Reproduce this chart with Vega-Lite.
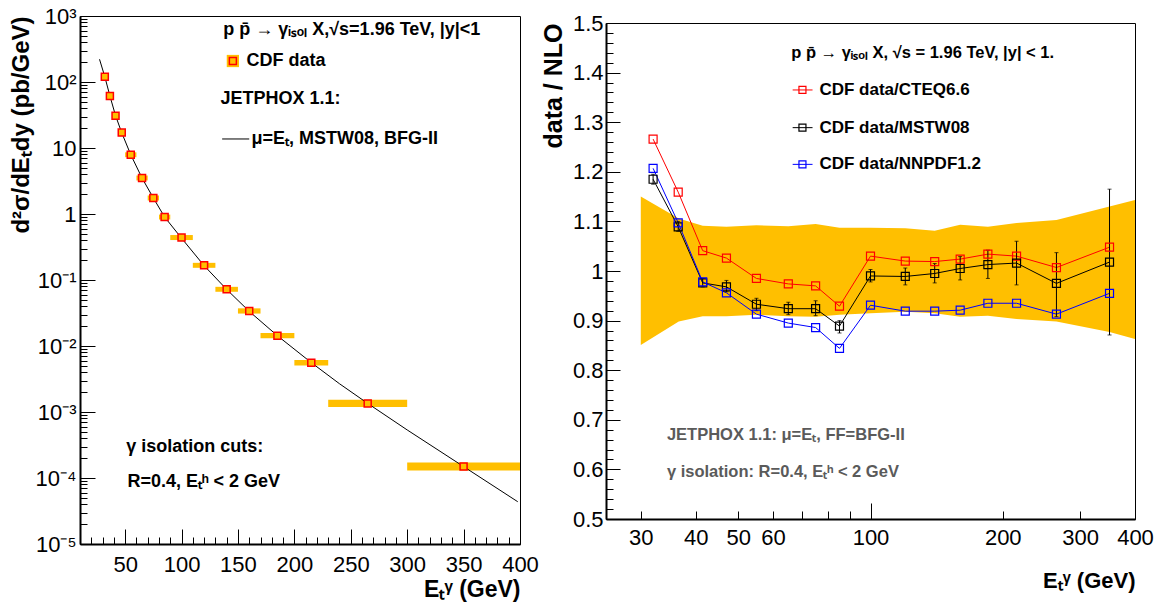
{
  "$schema": "https://vega.github.io/schema/vega-lite/v6.json",
  "padding": {"left": 8, "right": 0, "top": 4, "bottom": 0},
  "spacing": 1,
  "config": {
    "view": {"stroke": "black", "strokeWidth": 1},
    "axis": {"grid": false, "domainColor": "black", "tickColor": "black", "labelColor": "black", "titleColor": "black", "labelFont": "Liberation Sans", "titleFont": "Liberation Sans", "titleFontWeight": "bold", "labelFontSize": 22, "titleFontSize": 24}
  },
  "datasets": {
    "spec": [
      {"et": 32, "elo": 30, "ehi": 34, "xs": 120, "xslo": 110, "xshi": 131},
      {"et": 36.5, "elo": 34, "ehi": 39, "xs": 61.4, "xslo": 56.3, "xshi": 66.9},
      {"et": 41.5, "elo": 39, "ehi": 44, "xs": 30.9, "xslo": 28.3, "xshi": 33.7},
      {"et": 47, "elo": 44, "ehi": 50, "xs": 17.1, "xslo": 15.7, "xshi": 18.6},
      {"et": 55, "elo": 50, "ehi": 60, "xs": 7.9, "xslo": 7.25, "xshi": 8.6},
      {"et": 65, "elo": 60, "ehi": 70, "xs": 3.51, "xslo": 3.22, "xshi": 3.83},
      {"et": 75, "elo": 70, "ehi": 80, "xs": 1.75, "xslo": 1.6, "xshi": 1.91},
      {"et": 85, "elo": 80, "ehi": 90, "xs": 0.9, "xslo": 0.825, "xshi": 0.98},
      {"et": 100, "elo": 90, "ehi": 110, "xs": 0.44, "xslo": 0.403, "xshi": 0.48},
      {"et": 120, "elo": 110, "ehi": 130, "xs": 0.167, "xslo": 0.153, "xshi": 0.182},
      {"et": 140, "elo": 130, "ehi": 150, "xs": 0.0723, "xslo": 0.0663, "xshi": 0.0788},
      {"et": 160, "elo": 150, "ehi": 170, "xs": 0.0339, "xslo": 0.031, "xshi": 0.0372},
      {"et": 185, "elo": 170, "ehi": 200, "xs": 0.01435, "xslo": 0.0131, "xshi": 0.0158},
      {"et": 215, "elo": 200, "ehi": 230, "xs": 0.00559, "xslo": 0.00508, "xshi": 0.00615},
      {"et": 265, "elo": 230, "ehi": 300, "xs": 0.00135, "xslo": 0.00119, "xshi": 0.00153},
      {"et": 350, "elo": 300, "ehi": 400, "xs": 0.000149, "xslo": 0.00013, "xshi": 0.000171}
    ],
    "theory": [
      {"et": 27.3, "xs": 221}, {"et": 32, "xs": 120}, {"et": 36.5, "xs": 61.5}, {"et": 41.5, "xs": 31},
      {"et": 47, "xs": 17}, {"et": 55, "xs": 7.9}, {"et": 65, "xs": 3.5}, {"et": 75, "xs": 1.75},
      {"et": 85, "xs": 0.9}, {"et": 100, "xs": 0.43}, {"et": 120, "xs": 0.165}, {"et": 140, "xs": 0.072},
      {"et": 160, "xs": 0.0335}, {"et": 185, "xs": 0.0143}, {"et": 215, "xs": 0.0056}, {"et": 240, "xs": 0.00268},
      {"et": 265, "xs": 0.00135}, {"et": 300, "xs": 0.000535}, {"et": 350, "xs": 0.000149}, {"et": 398, "xs": 0.0000437}
    ],
    "ratio": [
      {"et": 32, "pdf": "CTEQ6.6", "r": 1.266}, {"et": 36.5, "pdf": "CTEQ6.6", "r": 1.159}, {"et": 41.5, "pdf": "CTEQ6.6", "r": 1.041}, {"et": 47, "pdf": "CTEQ6.6", "r": 1.026},
      {"et": 55, "pdf": "CTEQ6.6", "r": 0.985}, {"et": 65, "pdf": "CTEQ6.6", "r": 0.974}, {"et": 75, "pdf": "CTEQ6.6", "r": 0.97}, {"et": 85, "pdf": "CTEQ6.6", "r": 0.929},
      {"et": 100, "pdf": "CTEQ6.6", "r": 1.03}, {"et": 120, "pdf": "CTEQ6.6", "r": 1.02}, {"et": 140, "pdf": "CTEQ6.6", "r": 1.019}, {"et": 160, "pdf": "CTEQ6.6", "r": 1.024},
      {"et": 185, "pdf": "CTEQ6.6", "r": 1.034}, {"et": 215, "pdf": "CTEQ6.6", "r": 1.03}, {"et": 265, "pdf": "CTEQ6.6", "r": 1.007}, {"et": 350, "pdf": "CTEQ6.6", "r": 1.048},
      {"et": 32, "pdf": "MSTW08", "r": 1.185}, {"et": 36.5, "pdf": "MSTW08", "r": 1.089}, {"et": 41.5, "pdf": "MSTW08", "r": 0.976}, {"et": 47, "pdf": "MSTW08", "r": 0.968},
      {"et": 55, "pdf": "MSTW08", "r": 0.933}, {"et": 65, "pdf": "MSTW08", "r": 0.924}, {"et": 75, "pdf": "MSTW08", "r": 0.924}, {"et": 85, "pdf": "MSTW08", "r": 0.889},
      {"et": 100, "pdf": "MSTW08", "r": 0.99}, {"et": 120, "pdf": "MSTW08", "r": 0.989}, {"et": 140, "pdf": "MSTW08", "r": 0.995}, {"et": 160, "pdf": "MSTW08", "r": 1.005},
      {"et": 185, "pdf": "MSTW08", "r": 1.013}, {"et": 215, "pdf": "MSTW08", "r": 1.016}, {"et": 265, "pdf": "MSTW08", "r": 0.975}, {"et": 350, "pdf": "MSTW08", "r": 1.018},
      {"et": 32, "pdf": "NNPDF1.2", "r": 1.207}, {"et": 36.5, "pdf": "NNPDF1.2", "r": 1.097}, {"et": 41.5, "pdf": "NNPDF1.2", "r": 0.978}, {"et": 47, "pdf": "NNPDF1.2", "r": 0.956},
      {"et": 55, "pdf": "NNPDF1.2", "r": 0.913}, {"et": 65, "pdf": "NNPDF1.2", "r": 0.895}, {"et": 75, "pdf": "NNPDF1.2", "r": 0.886}, {"et": 85, "pdf": "NNPDF1.2", "r": 0.844},
      {"et": 100, "pdf": "NNPDF1.2", "r": 0.931}, {"et": 120, "pdf": "NNPDF1.2", "r": 0.919}, {"et": 140, "pdf": "NNPDF1.2", "r": 0.919}, {"et": 160, "pdf": "NNPDF1.2", "r": 0.921},
      {"et": 185, "pdf": "NNPDF1.2", "r": 0.935}, {"et": 215, "pdf": "NNPDF1.2", "r": 0.935}, {"et": 265, "pdf": "NNPDF1.2", "r": 0.913}, {"et": 350, "pdf": "NNPDF1.2", "r": 0.955}
    ],
    "err": [
      {"et": 32, "lo": 1.175, "hi": 1.195}, {"et": 36.5, "lo": 1.08, "hi": 1.1}, {"et": 41.5, "lo": 0.968, "hi": 0.985}, {"et": 47, "lo": 0.958, "hi": 0.981},
      {"et": 55, "lo": 0.92, "hi": 0.945}, {"et": 65, "lo": 0.912, "hi": 0.937}, {"et": 75, "lo": 0.91, "hi": 0.94}, {"et": 85, "lo": 0.875, "hi": 0.9},
      {"et": 100, "lo": 0.978, "hi": 1.003}, {"et": 120, "lo": 0.972, "hi": 1.006}, {"et": 140, "lo": 0.976, "hi": 1.015}, {"et": 160, "lo": 0.982, "hi": 1.029},
      {"et": 185, "lo": 0.985, "hi": 1.042}, {"et": 215, "lo": 0.972, "hi": 1.06}, {"et": 265, "lo": 0.908, "hi": 1.037}, {"et": 350, "lo": 0.871, "hi": 1.165}
    ],
    "band": [
      {"et": 30, "lo": 0.851, "hi": 1.15}, {"et": 36.6, "lo": 0.898, "hi": 1.106}, {"et": 41.5, "lo": 0.909, "hi": 1.091}, {"et": 47, "lo": 0.909, "hi": 1.089},
      {"et": 55, "lo": 0.912, "hi": 1.092}, {"et": 65, "lo": 0.909, "hi": 1.09}, {"et": 75, "lo": 0.908, "hi": 1.095}, {"et": 85, "lo": 0.912, "hi": 1.087},
      {"et": 100, "lo": 0.915, "hi": 1.087}, {"et": 120, "lo": 0.918, "hi": 1.086}, {"et": 140, "lo": 0.915, "hi": 1.081}, {"et": 160, "lo": 0.908, "hi": 1.093},
      {"et": 185, "lo": 0.91, "hi": 1.089}, {"et": 215, "lo": 0.903, "hi": 1.097}, {"et": 265, "lo": 0.898, "hi": 1.103}, {"et": 350, "lo": 0.877, "hi": 1.13},
      {"et": 400, "lo": 0.863, "hi": 1.143}
    ],
    "ltext": [
      {"x": 137, "y": 617, "t": "p p̄ → γᵢₛₒₗ X,√s=1.96 TeV, |y|<1"},
      {"x": 157.5, "y": 208, "t": "CDF data"},
      {"x": 134.5, "y": 55, "t": "JETPHOX 1.1:"},
      {"x": 162, "y": 13.7, "t": "μ=Eₜ, MSTW08, BFG-II"},
      {"x": 51, "y": 0.000295, "t": "γ isolation cuts:"},
      {"x": 52, "y": 0.000087, "t": "R=0.4, Eₜʰ < 2 GeV"}
    ],
    "lleg": [{"x": 145.5, "y": 208, "x1": 136, "x2": 160, "yl": 13.7}],
    "rleg": [
      {"pdf": "CTEQ6.6", "x1": 66.5, "x2": 73.8, "xm": 70, "xt": 76.5, "y": 1.365, "t": "CDF data/CTEQ6.6"},
      {"pdf": "MSTW08", "x1": 66.5, "x2": 73.8, "xm": 70, "xt": 76.5, "y": 1.289, "t": "CDF data/MSTW08"},
      {"pdf": "NNPDF1.2", "x1": 66.5, "x2": 73.8, "xm": 70, "xt": 76.5, "y": 1.215, "t": "CDF data/NNPDF1.2"}
    ],
    "rtitle": [{"x": 66, "y": 1.44, "t": "p p̄ → γᵢₛₒₗ X, √s = 1.96 TeV, |y| < 1."}],
    "rgray": [
      {"x": 34.4, "y": 0.669, "t": "JETPHOX 1.1: μ=Eₜ, FF=BFG-II"},
      {"x": 34.4, "y": 0.595, "t": "γ isolation: R=0.4, Eₜʰ < 2 GeV"}
    ]
  },
  "hconcat": [
    {
      "width": 440,
      "height": 528,
      "resolve": {"axis": {"x": "independent", "y": "independent"}},
      "layer": [
        {
          "data": {"name": "spec"},
          "mark": {"type": "rect", "color": "#ffbf00"},
          "encoding": {
            "x": {"field": "elo", "type": "quantitative", "scale": {"domain": [10, 400], "nice": false, "zero": false},
              "axis": {"orient": "bottom", "values": [50, 100, 150, 200, 250, 300, 350, 400], "format": "d", "tickSize": -15, "labelPadding": 25, "domainWidth": 2, "labelFlush": false, "title": "Eₜᵞ (GeV)", "titleAnchor": "end", "titleFontSize": 23, "titlePadding": 3}},
            "x2": {"field": "ehi"},
            "y": {"field": "xslo", "type": "quantitative", "scale": {"type": "log", "domain": [0.00001, 1000], "nice": false},
              "axis": {"orient": "left", "values": [0.00001, 0.0001, 0.001, 0.01, 0.1, 1, 10, 100, 1000], "tickSize": -15, "labelPadding": 19, "domainWidth": 2, "labelFlush": false,
                "labelExpr": "datum.value > 500 ? '10³' : datum.value > 50 ? '10²' : datum.value > 5 ? '10' : datum.value > 0.5 ? '1' : datum.value > 0.05 ? '10⁻¹' : datum.value > 0.005 ? '10⁻²' : datum.value > 0.0005 ? '10⁻³' : datum.value > 0.00005 ? '10⁻⁴' : '10⁻⁵'",
                "title": "d²σ/dEₜdy (pb/GeV)", "titleAnchor": "end", "titleFontSize": 24, "titlePadding": 2}},
            "y2": {"field": "xshi"}
          }
        },
        {
          "data": {"name": "theory"},
          "mark": {"type": "line", "color": "black", "strokeWidth": 1},
          "encoding": {
            "x": {"field": "et", "type": "quantitative",
              "axis": {"orient": "bottom", "values": [10,20,30,40,60,70,80,90,110,120,130,140,160,170,180,190,210,220,230,240,260,270,280,290,310,320,330,340,360,370,380,390], "labels": false, "domain": false, "tickSize": -7, "title": null}},
            "y": {"field": "xs", "type": "quantitative",
              "axis": {"orient": "left", "labels": false, "domain": false, "tickSize": -7, "title": null,
                "values": [0.00002,0.00003,0.00004,0.00005,0.00006,0.00007,0.00008,0.00009,0.0002,0.0003,0.0004,0.0005,0.0006,0.0007,0.0008,0.0009,0.002,0.003,0.004,0.005,0.006,0.007,0.008,0.009,0.02,0.03,0.04,0.05,0.06,0.07,0.08,0.09,0.2,0.3,0.4,0.5,0.6,0.7,0.8,0.9,2,3,4,5,6,7,8,9,20,30,40,50,60,70,80,90,200,300,400,500,600,700,800,900]}}
          }
        },
        {
          "data": {"name": "spec"},
          "mark": {"type": "point", "shape": "square", "filled": false, "fill": "#ffbf00", "fillOpacity": 1, "stroke": "#ff0000", "strokeWidth": 1.5, "size": 49},
          "encoding": {
            "x": {"field": "et", "type": "quantitative", "axis": null},
            "y": {"field": "xs", "type": "quantitative", "axis": null}
          }
        },
        {
          "data": {"name": "lleg"},
          "mark": {"type": "point", "shape": "square", "filled": true, "color": "#ffbf00", "opacity": 1, "size": 150},
          "encoding": {
            "x": {"field": "x", "type": "quantitative", "axis": null},
            "y": {"field": "y", "type": "quantitative", "axis": null}
          }
        },
        {
          "data": {"name": "lleg"},
          "mark": {"type": "point", "shape": "square", "filled": false, "fill": "#ffbf00", "fillOpacity": 1, "stroke": "#ff0000", "strokeWidth": 1.5, "size": 49},
          "encoding": {
            "x": {"field": "x", "type": "quantitative", "axis": null},
            "y": {"field": "y", "type": "quantitative", "axis": null}
          }
        },
        {
          "data": {"name": "lleg"},
          "mark": {"type": "rule", "color": "black", "strokeWidth": 1},
          "encoding": {
            "x": {"field": "x1", "type": "quantitative", "axis": null},
            "x2": {"field": "x2"},
            "y": {"field": "yl", "type": "quantitative", "axis": null}
          }
        },
        {
          "data": {"name": "ltext"},
          "mark": {"type": "text", "align": "left", "baseline": "middle", "font": "Liberation Sans", "fontWeight": "bold", "fontSize": 18, "color": "black"},
          "encoding": {
            "x": {"field": "x", "type": "quantitative", "axis": null},
            "y": {"field": "y", "type": "quantitative", "axis": null},
            "text": {"field": "t"}
          }
        }
      ]
    },
    {
      "spacing": 6,
      "bounds": "flush",
      "vconcat": [
        {
          "width": 529,
          "height": 1,
          "view": {"stroke": null},
          "data": {"values": [{}]},
          "mark": {"type": "rule", "opacity": 0},
          "encoding": {}
        },
        {
          "width": 529,
          "height": 496,
          "resolve": {"axis": {"x": "independent", "y": "independent"}},
          "layer": [
            {
              "data": {"name": "band"},
              "mark": {"type": "area", "color": "#ffbf00", "opacity": 1},
              "encoding": {
                "x": {"field": "et", "type": "quantitative", "scale": {"type": "log", "domain": [25, 400], "nice": false},
                  "axis": {"orient": "bottom", "values": [30, 40, 50, 60, 100, 200, 300, 400], "format": "d", "tickSize": -8, "labelPadding": 16, "domainWidth": 2, "labelFlush": false,
                    "title": "Eₜᵞ (GeV)", "titleAnchor": "end", "titleFontSize": 22, "titlePadding": 22}},
                "y": {"field": "lo", "type": "quantitative", "scale": {"domain": [0.5, 1.5], "nice": false, "zero": false},
                  "axis": {"orient": "left", "values": [0.5, 0.6, 0.7, 0.8, 0.9, 1, 1.1, 1.2, 1.3, 1.4, 1.5], "format": "~g", "tickSize": -14, "labelPadding": 17, "domainWidth": 2, "labelFlush": false,
                    "title": "data / NLO", "titleAnchor": "end", "titleFontSize": 25, "titlePadding": 6}},
                "y2": {"field": "hi"}
              }
            },
            {
              "mark": {"type": "rule", "color": "#ff0000", "opacity": 0.85, "strokeWidth": 2, "strokeDash": [12, 5]},
              "encoding": {"y": {"datum": 1, "type": "quantitative", "axis": null}}
            },
            {
              "data": {"name": "ratio"},
              "mark": {"type": "line", "strokeWidth": 1},
              "encoding": {
                "x": {"field": "et", "type": "quantitative",
                  "axis": {"orient": "bottom", "values": [70, 80, 90], "labels": false, "domain": false, "tickSize": -8, "title": null}},
                "y": {"field": "r", "type": "quantitative",
                  "axis": {"orient": "left", "labels": false, "domain": false, "tickSize": -7, "title": null,
                    "values": [0.52,0.54,0.56,0.58,0.62,0.64,0.66,0.68,0.72,0.74,0.76,0.78,0.82,0.84,0.86,0.88,0.92,0.94,0.96,0.98,1.02,1.04,1.06,1.08,1.12,1.14,1.16,1.18,1.22,1.24,1.26,1.28,1.32,1.34,1.36,1.38,1.42,1.44,1.46,1.48]}},
                "color": {"field": "pdf", "type": "nominal", "scale": {"domain": ["CTEQ6.6", "MSTW08", "NNPDF1.2"], "range": ["#ff0000", "#000000", "#0000ff"]}, "legend": null}
              }
            },
            {
              "data": {"name": "err"},
              "mark": {"type": "rule", "color": "black", "strokeWidth": 1},
              "encoding": {
                "x": {"field": "et", "type": "quantitative",
                  "axis": {"orient": "bottom", "values": [100], "labels": false, "domain": false, "tickSize": -16, "title": null}},
                "y": {"field": "lo", "type": "quantitative", "axis": null},
                "y2": {"field": "hi"}
              }
            },
            {
              "data": {"name": "err"},
              "mark": {"type": "tick", "orient": "horizontal", "color": "black", "size": 4, "thickness": 1},
              "encoding": {
                "x": {"field": "et", "type": "quantitative", "axis": null},
                "y": {"field": "lo", "type": "quantitative", "axis": null}
              }
            },
            {
              "data": {"name": "err"},
              "mark": {"type": "tick", "orient": "horizontal", "color": "black", "size": 4, "thickness": 1},
              "encoding": {
                "x": {"field": "et", "type": "quantitative", "axis": null},
                "y": {"field": "hi", "type": "quantitative", "axis": null}
              }
            },
            {
              "data": {"name": "ratio"},
              "mark": {"type": "point", "shape": "square", "filled": false, "strokeWidth": 1.2, "size": 64, "opacity": 1},
              "encoding": {
                "x": {"field": "et", "type": "quantitative", "axis": null},
                "y": {"field": "r", "type": "quantitative", "axis": null},
                "color": {"field": "pdf", "type": "nominal", "legend": null}
              }
            },
            {
              "data": {"name": "rleg"},
              "mark": {"type": "rule", "strokeWidth": 1},
              "encoding": {
                "x": {"field": "x1", "type": "quantitative", "axis": null},
                "x2": {"field": "x2"},
                "y": {"field": "y", "type": "quantitative", "axis": null},
                "color": {"field": "pdf", "type": "nominal", "legend": null}
              }
            },
            {
              "data": {"name": "rleg"},
              "mark": {"type": "point", "shape": "square", "filled": false, "strokeWidth": 1.2, "size": 49, "opacity": 1},
              "encoding": {
                "x": {"field": "xm", "type": "quantitative", "axis": null},
                "y": {"field": "y", "type": "quantitative", "axis": null},
                "color": {"field": "pdf", "type": "nominal", "legend": null}
              }
            },
            {
              "data": {"name": "rleg"},
              "mark": {"type": "text", "align": "left", "baseline": "middle", "font": "Liberation Sans", "fontWeight": "bold", "fontSize": 17, "color": "black"},
              "encoding": {
                "x": {"field": "xt", "type": "quantitative", "axis": null},
                "y": {"field": "y", "type": "quantitative", "axis": null},
                "text": {"field": "t"}
              }
            },
            {
              "data": {"name": "rtitle"},
              "mark": {"type": "text", "align": "left", "baseline": "middle", "font": "Liberation Sans", "fontWeight": "bold", "fontSize": 16.5, "color": "black"},
              "encoding": {
                "x": {"field": "x", "type": "quantitative", "axis": null},
                "y": {"field": "y", "type": "quantitative", "axis": null},
                "text": {"field": "t"}
              }
            },
            {
              "data": {"name": "rgray"},
              "mark": {"type": "text", "align": "left", "baseline": "middle", "font": "Liberation Sans", "fontWeight": "bold", "fontSize": 16.5, "color": "#5a5a5a"},
              "encoding": {
                "x": {"field": "x", "type": "quantitative", "axis": null},
                "y": {"field": "y", "type": "quantitative", "axis": null},
                "text": {"field": "t"}
              }
            }
          ]
        }
      ]
    }
  ]
}
